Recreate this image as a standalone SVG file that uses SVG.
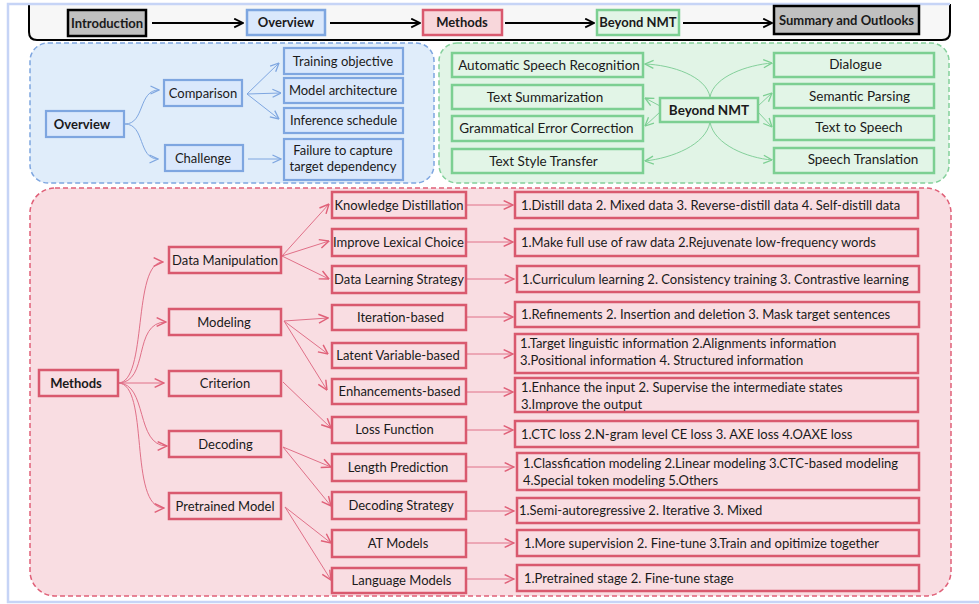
<svg xmlns="http://www.w3.org/2000/svg" width="979" height="604" viewBox="0 0 979 604">
<style>
text{font-family:Lato,"Liberation Sans",sans-serif;font-size:13px;fill:#1a1a1a;}
.b{font-weight:bold;}
.c{text-anchor:middle;}
.g{font-size:13.5px;}
.bn{fill:#dae8fc;stroke:#7ea6e0;stroke-width:2.2;}
.gn{fill:#e2f5e7;stroke:#7ccf92;stroke-width:2.5;}
.pn{fill:#f9dde2;stroke:#d9596e;stroke-width:2.5;}
.bl{fill:none;stroke:#7ea6e0;stroke-width:1;marker-end:url(#ab);}
.gl{fill:none;stroke:#84d09b;stroke-width:1;marker-end:url(#ag);}
.pl{fill:none;stroke:#e07088;stroke-width:1;marker-end:url(#ap);}
.hl{fill:none;stroke:#000;stroke-width:2;marker-end:url(#ak);}
</style>
<defs>
<marker id="ab" viewBox="0 0 10 10" refX="9.5" refY="5" markerWidth="10" markerHeight="10" markerUnits="userSpaceOnUse" orient="auto"><path d="M1,1 L9.5,5 L1,9" fill="none" stroke="#7ea6e0" stroke-width="1.3"/></marker>
<marker id="ag" viewBox="0 0 10 10" refX="9.5" refY="5" markerWidth="10" markerHeight="10" markerUnits="userSpaceOnUse" orient="auto"><path d="M1,1 L9.5,5 L1,9" fill="none" stroke="#7ccf92" stroke-width="1.3"/></marker>
<marker id="ap" viewBox="0 0 10 10" refX="9.5" refY="5" markerWidth="11" markerHeight="11" markerUnits="userSpaceOnUse" orient="auto"><path d="M1,1 L9.5,5 L1,9" fill="none" stroke="#e06078" stroke-width="1.3"/></marker>
<marker id="ak" viewBox="0 0 10 10" refX="9" refY="5" markerWidth="11" markerHeight="11" markerUnits="userSpaceOnUse" orient="auto"><path d="M1,1 L9,5 L1,9" fill="none" stroke="#000" stroke-width="1.6"/></marker>
</defs>
<rect width="979" height="604" fill="#ffffff"/>
<g id="frame">
<path d="M29,4 V32 Q29,40 37,40 H942 Q950,40 950,32 V4" fill="#f7f7f7" stroke="#000" stroke-width="2"/>
<path d="M950,4 H8 V602 H979" fill="none" stroke="#c6d4f6" stroke-width="2.5"/>
</g>
<g id="panels">
<rect x="30" y="43" width="404" height="140" rx="18" fill="#e0edfa" stroke="#7ea6e0" stroke-width="1.5" stroke-dasharray="5,3"/>
<rect x="439" y="43" width="510" height="140" rx="18" fill="#e1f4e6" stroke="#84d09b" stroke-width="1.5" stroke-dasharray="5,3"/>
<rect x="30" y="188" width="921" height="408" rx="25" fill="#f9dde2" stroke="#e06078" stroke-width="1.5" stroke-dasharray="5,3"/>
</g>
<g id="connectors">
<path class="hl" d="M152,23 L243,23"/>
<path class="hl" d="M330,23 L420,23"/>
<path class="hl" d="M505,23 L594,23"/>
<path class="hl" d="M683,23 L772,23"/>
<path class="bl" d="M125,124 C145,124 138,90 159,90"/>
<path class="bl" d="M125,124 C145,124 138,159 158,159"/>
<path class="bl" d="M247,94 L279,63"/>
<path class="bl" d="M247,94 L281,93"/>
<path class="bl" d="M247,94 L279,119"/>
<path class="bl" d="M248,159 L281,159"/>
<path class="gl" d="M710,97 C706,76 672,65 645,64"/>
<path class="gl" d="M710,97 C714,76 748,65 772,63"/>
<path class="gl" d="M710,122 C706,145 672,158 645,161"/>
<path class="gl" d="M710,122 C714,145 748,158 772,160"/>
<path class="gl" d="M660,106 L645,98"/>
<path class="gl" d="M660,112 L645,126"/>
<path class="gl" d="M758,106 L772,93"/>
<path class="gl" d="M758,112 L772,127"/>
<path class="pl" d="M118,383 C148,383 132,262 163,262"/>
<path class="pl" d="M118,383 C150,383 132,322 166,322"/>
<path class="pl" d="M118,383 L164,383"/>
<path class="pl" d="M118,383 C148,383 135,446 167,446"/>
<path class="pl" d="M118,383 C150,383 128,508 164,508"/>
<path class="pl" d="M282,256 L329,204"/>
<path class="pl" d="M282,256 L329,241"/>
<path class="pl" d="M282,256 L329,279"/>
<path class="pl" d="M284,321 L328,318"/>
<path class="pl" d="M284,321 L328,354"/>
<path class="pl" d="M284,321 L327,390"/>
<path class="pl" d="M283,382 L331,428"/>
<path class="pl" d="M283,447 L331,467"/>
<path class="pl" d="M283,447 L331,506"/>
<path class="pl" d="M285,507 L331,543"/>
<path class="pl" d="M285,507 L331,580"/>
<path class="pl" d="M467,205 L513,205"/>
<path class="pl" d="M467,242 L513,242"/>
<path class="pl" d="M467,279 L514,279"/>
<path class="pl" d="M467,317 L513,317"/>
<path class="pl" d="M467,354 L513,354"/>
<path class="pl" d="M467,392 L513,392"/>
<path class="pl" d="M467,430 L513,430"/>
<path class="pl" d="M467,467 L514,467"/>
<path class="pl" d="M467,511 L514,511"/>
<path class="pl" d="M467,543 L514,543"/>
<path class="pl" d="M467,579 L514,579"/>
</g>
<g id="h-intro"><rect x="68" y="10" width="78" height="26" fill="#c0c0c0" stroke="#000" stroke-width="2.5"/><text class="b c" x="107" y="27.5">Introduction</text></g>
<g id="h-overview"><rect x="247" y="10" width="78" height="25" fill="#dae8fc" stroke="#7ea6e0" stroke-width="2.5"/><text class="b c" x="286" y="27">Overview</text></g>
<g id="h-methods"><rect x="423" y="10" width="79" height="25" fill="#f8d7db" stroke="#d9596e" stroke-width="2.5"/><text class="b c" x="462" y="27">Methods</text></g>
<g id="h-beyond"><rect x="597" y="10" width="82" height="25" fill="#e2f5e7" stroke="#7ccf92" stroke-width="2.5"/><text class="b c" x="638" y="27">Beyond NMT</text></g>
<g id="h-summary"><rect x="774" y="6" width="145" height="28" fill="#c0c0c0" stroke="#000" stroke-width="2.5"/><text class="b c" x="846.5" y="24.5">Summary and Outlooks</text></g>

<g id="ov-root"><rect class="bn" x="46" y="111" width="78" height="26"/><text class="b c" x="82" y="128.5">Overview</text></g>
<g id="ov-comparison"><rect class="bn" x="164" y="80" width="78" height="26"/><text class="c" x="203" y="97.5">Comparison</text></g>
<g id="ov-challenge"><rect class="bn" x="165" y="145" width="78" height="26"/><text class="c" x="203" y="162.5">Challenge</text></g>
<g id="ov-training"><rect class="bn" x="284" y="48" width="119" height="26"/><text class="c" x="343" y="65.5">Training objective</text></g>
<g id="ov-model"><rect class="bn" x="284" y="78" width="119" height="25"/><text class="c" x="343" y="95">Model architecture</text></g>
<g id="ov-inference"><rect class="bn" x="284" y="108" width="119" height="25"/><text class="c" x="343.5" y="125">Inference schedule</text></g>
<g id="ov-failure"><rect class="bn" x="284" y="139" width="119" height="41"/><text class="c" x="343" y="154.5">Failure to capture</text><text class="c" x="343" y="171">target dependency</text></g>

<g id="bn-root"><rect class="gn" x="660" y="98" width="98" height="24"/><text class="b c g" x="709" y="114.5">Beyond NMT</text></g>
<g id="bn-asr"><rect class="gn" x="452" y="53" width="191" height="24"/><text class="c g" x="549" y="69.5">Automatic Speech Recognition</text></g>
<g id="bn-ts"><rect class="gn" x="452" y="85" width="191" height="24"/><text class="c g" x="545" y="101.5">Text Summarization</text></g>
<g id="bn-gec"><rect class="gn" x="452" y="116" width="191" height="25"/><text class="c g" x="546.5" y="133">Grammatical Error Correction</text></g>
<g id="bn-tst"><rect class="gn" x="452" y="149" width="191" height="24"/><text class="c g" x="543.5" y="165.5">Text Style Transfer</text></g>
<g id="bn-dialogue"><rect class="gn" x="774" y="53" width="160" height="24"/><text class="c g" x="855.5" y="68.5">Dialogue</text></g>
<g id="bn-sp"><rect class="gn" x="774" y="84" width="160" height="24"/><text class="c g" x="859.5" y="100.5">Semantic Parsing</text></g>
<g id="bn-tts"><rect class="gn" x="774" y="116" width="160" height="24"/><text class="c g" x="859" y="131.5">Text to Speech</text></g>
<g id="bn-st"><rect class="gn" x="774" y="148" width="160" height="25"/><text class="c g" x="863" y="164">Speech Translation</text></g>

<g id="m-root"><rect class="pn" x="39" y="370" width="79" height="26"/><text class="b c" x="76" y="387.5">Methods</text></g>
<g id="m-dm"><rect class="pn" x="169" y="247" width="112" height="26"/><text class="c" x="225" y="264.5">Data Manipulation</text></g>
<g id="m-modeling"><rect class="pn" x="169" y="309" width="112" height="26"/><text class="c" x="224" y="326.5">Modeling</text></g>
<g id="m-criterion"><rect class="pn" x="169" y="371" width="112" height="25"/><text class="c" x="225" y="388">Criterion</text></g>
<g id="m-decoding"><rect class="pn" x="169" y="431" width="112" height="26"/><text class="c" x="225.5" y="448.5">Decoding</text></g>
<g id="m-pretrained"><rect class="pn" x="169" y="493" width="112" height="26"/><text class="c" x="225" y="510.5">Pretrained Model</text></g>

<g id="m-kd"><rect class="pn" x="332" y="192" width="134" height="26"/><text class="c" x="399" y="209.5">Knowledge Distillation</text></g>
<g id="m-ilc"><rect class="pn" x="332" y="229" width="134" height="27"/><text class="c" x="398.5" y="247">Improve Lexical Choice</text></g>
<g id="m-dls"><rect class="pn" x="332" y="266" width="134" height="27"/><text class="c" x="399" y="284">Data Learning Strategy</text></g>
<g id="m-iter"><rect class="pn" x="332" y="305" width="134" height="25"/><text class="c" x="400.5" y="322">Iteration-based</text></g>
<g id="m-latent"><rect class="pn" x="332" y="343" width="134" height="25"/><text class="c" x="398" y="360">Latent Variable-based</text></g>
<g id="m-enh"><rect class="pn" x="332" y="379" width="134" height="25"/><text class="c" x="399.5" y="396">Enhancements-based</text></g>
<g id="m-loss"><rect class="pn" x="332" y="417" width="134" height="26"/><text class="c" x="394.5" y="434">Loss Function</text></g>
<g id="m-length"><rect class="pn" x="332" y="454" width="134" height="27"/><text class="c" x="398" y="472">Length Prediction</text></g>
<g id="m-ds"><rect class="pn" x="332" y="492" width="134" height="27"/><text class="c" x="401" y="510">Decoding Strategy</text></g>
<g id="m-at"><rect class="pn" x="332" y="530" width="134" height="27"/><text class="c" x="398" y="548">AT Models</text></g>
<g id="m-lm"><rect class="pn" x="332" y="568" width="134" height="25"/><text class="c" x="401.5" y="585">Language Models</text></g>

<g id="d-kd"><rect class="pn" x="515" y="192" width="403" height="26"/><text x="521" y="209.5">1.Distill data 2. Mixed data 3. Reverse-distill data 4. Self-distill data</text></g>
<g id="d-ilc"><rect class="pn" x="515" y="229" width="403" height="27"/><text x="521" y="247">1.Make full use of raw data 2.Rejuvenate low-frequency words</text></g>
<g id="d-dls"><rect class="pn" x="517" y="266" width="402" height="26"/><text x="522" y="283.5">1.Curriculum learning 2. Consistency training 3. Contrastive learning</text></g>
<g id="d-iter"><rect class="pn" x="515" y="302" width="404" height="25"/><text x="521" y="319">1.Refinements 2. Insertion and deletion 3. Mask target sentences</text></g>
<g id="d-latent"><rect class="pn" x="515" y="334" width="403" height="39"/><text x="520" y="347.5">1.Target linguistic information 2.Alignments information</text><text x="520" y="364.5">3.Positional information 4. Structured information</text></g>
<g id="d-enh"><rect class="pn" x="515" y="378" width="403" height="34"/><text x="521" y="391.5">1.Enhance the input 2. Supervise the intermediate states</text><text x="521" y="408.5">3.Improve the output</text></g>
<g id="d-loss"><rect class="pn" x="515" y="421" width="403" height="26"/><text x="521" y="438.5">1.CTC loss 2.N-gram level CE loss 3. AXE loss 4.OAXE loss</text></g>
<g id="d-length"><rect class="pn" x="517" y="453" width="402" height="37"/><text x="523" y="467.5">1.Classfication modeling 2.Linear modeling 3.CTC-based modeling</text><text x="523" y="484.5">4.Special token modeling 5.Others</text></g>
<g id="d-ds"><rect class="pn" x="517" y="498" width="402" height="25"/><text x="519" y="515">1.Semi-autoregressive 2. Iterative 3. Mixed</text></g>
<g id="d-at"><rect class="pn" x="517" y="530" width="402" height="26"/><text x="524" y="547.5">1.More supervision 2. Fine-tune 3.Train and opitimize together</text></g>
<g id="d-lm"><rect class="pn" x="517" y="565" width="402" height="26"/><text x="524" y="582.5">1.Pretrained stage 2. Fine-tune stage</text></g>
</svg>
